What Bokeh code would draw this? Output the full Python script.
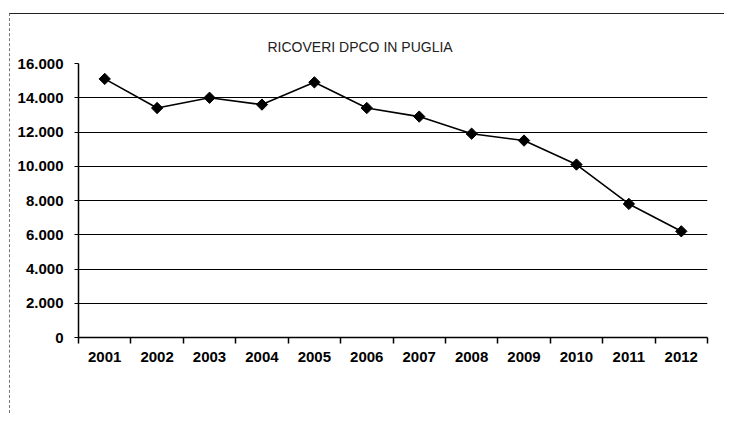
import math
from bokeh.plotting import figure
from bokeh.models import FixedTicker, Range1d
from bokeh.embed import file_html
from bokeh.resources import INLINE

years = ["2001", "2002", "2003", "2004", "2005", "2006", "2007", "2008", "2009", "2010", "2011", "2012"]
ricoveri = [15100, 13400, 14000, 13600, 14900, 13400, 12900, 11900, 11500, 10100, 7800, 6200]
y_ticks = [0, 2000, 4000, 6000, 8000, 10000, 12000, 14000, 16000]
y_labels = ["0", "2.000", "4.000", "6.000", "8.000", "10.000", "12.000", "14.000", "16.000"]

xs = [i + 0.5 for i in range(len(years))]

p = figure(width=715, height=400, output_backend="svg", toolbar_location=None,
           x_range=Range1d(0, len(years)), y_range=Range1d(0, 16000),
           min_border_left=68, min_border_right=18, min_border_top=49, min_border_bottom=77,
           title="RICOVERI DPCO IN PUGLIA")
p.title.align = "left"
p.title.offset = 189
p.title.standoff = 17
p.title.text_font = "Liberation Sans"
p.title.text_font_size = "14px"
p.title.text_font_style = "normal"
p.title.text_color = "#222222"
p.outline_line_color = None
p.background_fill_color = "white"
p.border_fill_color = "white"

p.line(xs, ricoveri, line_color="black", line_width=1.6)
p.scatter(xs, ricoveri, marker="square", angle=math.pi / 4, size=8,
          fill_color="black", line_color="black")

p.xaxis.ticker = FixedTicker(ticks=xs, minor_ticks=list(range(len(years) + 1)))
p.xaxis.major_label_overrides = {x: y for x, y in zip(xs, years)}
p.xaxis.major_tick_out = 0
p.xaxis.major_tick_in = 0
p.xaxis.minor_tick_out = 6
p.xaxis.minor_tick_in = 0
p.xaxis.minor_tick_line_color = "black"
p.xaxis.minor_tick_line_width = 1.5
p.xaxis.axis_line_color = "black"
p.xaxis.axis_line_width = 1.5
p.xaxis.major_label_text_font = "Liberation Sans"
p.xaxis.major_label_text_font_size = "15px"
p.xaxis.major_label_text_font_style = "bold"
p.xaxis.major_label_text_color = "black"
p.xaxis.major_label_standoff = 8

p.yaxis.ticker = FixedTicker(ticks=y_ticks)
p.yaxis.major_label_overrides = {t: l for t, l in zip(y_ticks, y_labels)}
p.yaxis.major_tick_out = 4
p.yaxis.major_tick_in = 0
p.yaxis.minor_tick_line_color = None
p.yaxis.axis_line_color = "black"
p.yaxis.axis_line_width = 1.5
p.yaxis.major_tick_line_color = "black"
p.yaxis.major_label_text_font = "Liberation Sans"
p.yaxis.major_label_text_font_size = "15px"
p.yaxis.major_label_text_font_style = "bold"
p.yaxis.major_label_text_color = "black"
p.yaxis.major_label_standoff = 11

p.xgrid.grid_line_color = None
p.ygrid.ticker = FixedTicker(ticks=y_ticks)
p.ygrid.grid_line_color = "black"
p.ygrid.grid_line_width = 1.2

p.styles = {"margin": "13px 0 0 9px", "border-top": "1.5px solid #222", "border-left": "1px dashed #777"}

open("out.html", "w").write(file_html(p, INLINE))
